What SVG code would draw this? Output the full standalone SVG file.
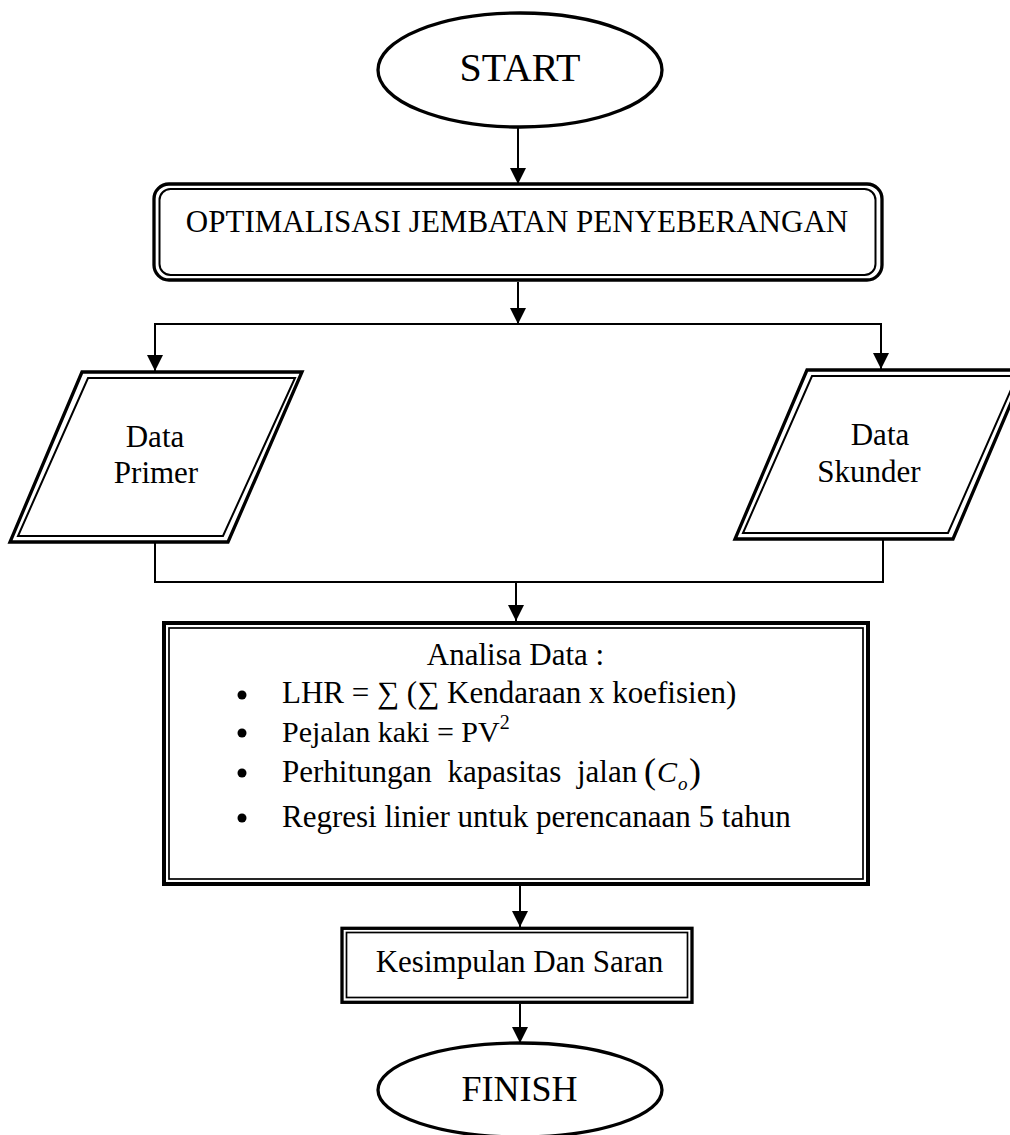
<svg xmlns="http://www.w3.org/2000/svg" width="1010" height="1135" viewBox="0 0 1010 1135">
<defs>
<style>
.t{font-family:"Liberation Serif","Times New Roman",serif;fill:#000}
.ln{fill:none;stroke:#000;stroke-width:2}
.thick{fill:none;stroke:#000;stroke-width:3.3}
.thin{fill:none;stroke:#000;stroke-width:2}
.thin2{fill:none;stroke:#000;stroke-width:1.7}
.ah{fill:#000}
</style>
<marker id="arr" viewBox="0 0 16 16" refX="16" refY="8" markerWidth="16" markerHeight="16" markerUnits="userSpaceOnUse" orient="auto">
<path d="M0,0 L16,8 L0,16 Z" class="ah"/>
</marker>
</defs>
<rect width="1010" height="1135" fill="#fff"/>

<g id="start">
<ellipse cx="520" cy="70" rx="142" ry="57" class="thick"/>
<text x="520" y="81" class="t" font-size="40" text-anchor="middle">START</text>
</g>

<g id="optimalisasi">
<rect x="154" y="184" width="728" height="96" rx="15" class="thick"/>
<rect x="159.5" y="189" width="716" height="86" rx="11" class="thin"/>
<text x="517" y="232" class="t" font-size="31" text-anchor="middle">OPTIMALISASI JEMBATAN PENYEBERANGAN</text>
</g>

<g id="data-primer">
<polygon points="82,372 302,372 228,542 10,542" class="thick"/>
<polygon points="88,378 295,378 223,536 18,536" class="thin"/>
<text x="155" y="447" class="t" font-size="31" text-anchor="middle">Data</text>
<text x="156" y="483" class="t" font-size="31" text-anchor="middle">Primer</text>
</g>

<g id="data-skunder">
<polygon points="807,370 1025,370 953,539 735,539" class="thick"/>
<polygon points="812,376 1017,376 948,533 743,533" class="thin"/>
<text x="880" y="445" class="t" font-size="31" text-anchor="middle">Data</text>
<text x="869" y="482" class="t" font-size="31" text-anchor="middle">Skunder</text>
</g>

<g id="analisa">
<rect x="164" y="623" width="704" height="261" fill="none" stroke="#000" stroke-width="4"/>
<rect x="169" y="628" width="694" height="251" class="thin2"/>
<text x="515.5" y="665" class="t" font-size="31" text-anchor="middle">Analisa Data :</text>
<circle cx="242" cy="695" r="4.5" fill="#000"/>
<circle cx="242" cy="733" r="4.5" fill="#000"/>
<circle cx="242" cy="773" r="4.5" fill="#000"/>
<circle cx="242" cy="818" r="4.5" fill="#000"/>
<text x="282" y="703" class="t" font-size="31">LHR = ∑ (∑ Kendaraan x koefisien)</text>
<text x="282" y="742" class="t" font-size="30">Pejalan kaki = PV<tspan font-size="20" dy="-13">2</tspan></text>
<text x="282" y="782" class="t" font-size="31" word-spacing="8">Perhitungan kapasitas jalan</text>
<text x="644" y="783" class="t" font-size="36">(</text>
<text x="657" y="782" class="t" font-size="30" font-style="italic">C</text>
<text x="678" y="790" class="t" font-size="19" font-style="italic">o</text>
<text x="689" y="783" class="t" font-size="36">)</text>
<text x="282" y="827" class="t" font-size="31">Regresi linier untuk perencanaan 5 tahun</text>
</g>

<g id="kesimpulan">
<rect x="342" y="928.3" width="350" height="74" fill="none" stroke="#000" stroke-width="3.3"/>
<rect x="346.5" y="932.5" width="341" height="65" fill="none" stroke="#000" stroke-width="1.7"/>
<text x="519.5" y="972" class="t" font-size="31" text-anchor="middle">Kesimpulan Dan Saran</text>
</g>

<g id="finish">
<ellipse cx="520" cy="1090" rx="142" ry="47" class="thick"/>
<text x="519.5" y="1101" class="t" font-size="36" text-anchor="middle">FINISH</text>
</g>

<g id="connectors">
<line x1="518" y1="128" x2="518" y2="184" class="ln" marker-end="url(#arr)"/>
<line x1="518" y1="282" x2="518" y2="324" class="ln" marker-end="url(#arr)"/>
<polyline points="155,371 155,324 881,324 881,369" class="ln"/>
<line x1="155" y1="340" x2="155" y2="371" class="ln" marker-end="url(#arr)"/>
<line x1="881" y1="340" x2="881" y2="369" class="ln" marker-end="url(#arr)"/>
<polyline points="155,542 155,582 883,582 883,539" class="ln"/>
<line x1="516" y1="582" x2="516" y2="621" class="ln" marker-end="url(#arr)"/>
<line x1="520" y1="886" x2="520" y2="927" class="ln" marker-end="url(#arr)"/>
<line x1="520" y1="1004" x2="520" y2="1043" class="ln" marker-end="url(#arr)"/>
</g>
</svg>
